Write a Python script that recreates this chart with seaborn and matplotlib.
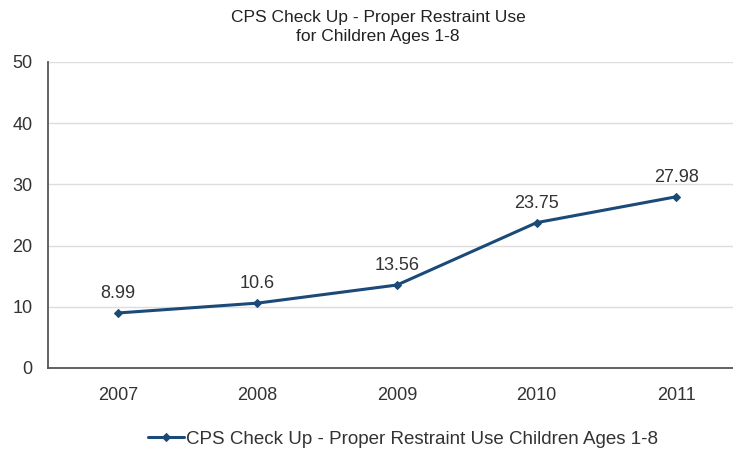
import numpy as np
import pandas as pd
import matplotlib
matplotlib.use('Agg')
import matplotlib.pyplot as plt
import seaborn as sns

years = ['2007', '2008', '2009', '2010', '2011']
values = [8.99, 10.6, 13.56, 23.75, 27.98]
value_labels = ['8.99', '10.6', '13.56', '23.75', '27.98']
series_name = 'CPS Check Up - Proper Restraint Use Children Ages 1-8'

sns.set_style('white')
plt.rcParams['font.family'] = ['Liberation Sans', 'DejaVu Sans']

df = pd.DataFrame({'pos': np.arange(len(years)), 'value': values})

fig = plt.figure(figsize=(7.33, 4.5), dpi=100)
ax = fig.add_axes([48 / 733, 1 - 368 / 450, 698 / 733, 306 / 450])

line_color = '#1b4a78'
sns.lineplot(data=df, x='pos', y='value', ax=ax, color=line_color, marker='D',
             markersize=5, linewidth=2.2, markeredgecolor=line_color,
             label=series_name, legend=False)

# data labels
for p, v, t in zip(df['pos'], df['value'], value_labels):
    ax.annotate(t, (p, v), xytext=(0, 8), textcoords='offset points',
                ha='center', va='bottom', fontsize=13, color='#333333')

ax.set_xlim(-0.5, len(years) - 0.5)
ax.set_ylim(0, 50)
ax.set_yticks([0, 10, 20, 30, 40, 50])
ax.set_xticks(range(len(years)))
ax.set_xticklabels(years)
ax.set_xticks(np.arange(-0.5, len(years)), minor=True)
ax.tick_params(axis='x', which='major', length=0, pad=14, labelsize=13, labelcolor='#333333')
ax.tick_params(axis='x', which='minor', length=5, direction='out', color='#555555', width=1)
ax.tick_params(axis='y', length=5, direction='out', color='#555555', width=1,
               labelsize=13, labelcolor='#333333', pad=6)
ax.set_xlabel('')
ax.set_ylabel('')

ax.yaxis.grid(True, color='#dddddd', linewidth=1)
ax.set_axisbelow(True)
for s in ['top', 'right']:
    ax.spines[s].set_visible(False)
for s in ['left', 'bottom']:
    ax.spines[s].set_color('#555555')
    ax.spines[s].set_linewidth(1.3)

fig.text(378 / 733, 1 - 27 / 450, 'CPS Check Up - Proper Restraint Use\nfor Children Ages 1-8',
         ha='center', va='center', fontsize=12.5, color='#222222', linespacing=1.3)

handles, labels = ax.get_legend_handles_labels()
handles[0].set_markersize(4)
fig.legend(handles, labels, loc='center', bbox_to_anchor=(403 / 733, 1 - 439 / 450),
           frameon=False, fontsize=13.5, handlelength=1.9, handletextpad=0.1,
           labelcolor='#333333')

fig.savefig('out.png', dpi=100)
